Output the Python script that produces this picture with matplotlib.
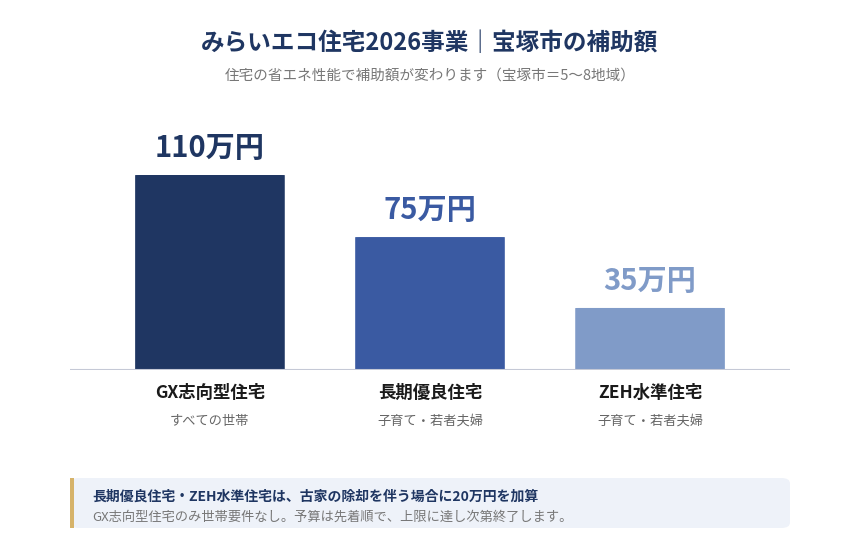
import matplotlib
matplotlib.use('Agg')
import matplotlib.pyplot as plt
from matplotlib.patches import FancyBboxPatch, Rectangle

plt.rcParams['font.family'] = ['Noto Sans CJK JP', 'DejaVu Sans']

categories = ['GX志向型住宅', '長期優良住宅', 'ZEH水準住宅']
sub_labels = ['すべての世帯', '子育て・若者夫婦', '子育て・若者夫婦']
values = [110, 75, 35]
value_labels = ['110万円', '75万円', '35万円']
colors = ['#1f3662', '#3a5aa2', '#809bc8']
label_colors = ['#1f3662', '#3a5aa2', '#809bc8']

W, H = 860, 560
fig = plt.figure(figsize=(8.6, 5.6), dpi=100)

def fy(py):
    return 1 - py / H

ax = fig.add_axes([70 / W, fy(370), 720 / W, (370 - 120) / H])
ax.set_xlim(-0.636, 2.636)
ax.set_ylim(0, 110 * 250 / 195)
ax.axis('off')

for i, v in enumerate(values):
    ax.add_patch(FancyBboxPatch((i - 0.34, 0), 0.68, v,
                                boxstyle='round,pad=0,rounding_size=0.02',
                                mutation_aspect=4, facecolor=colors[i], edgecolor='none'))
    ax.text(i, v + 7, value_labels[i], ha='center', va='bottom', fontsize=21,
            fontweight='bold', color=label_colors[i])
    ax.text(i, -13, categories[i], ha='center', va='center', fontsize=12.5,
            fontweight='bold', color='#1a1a1a', clip_on=False)
    ax.text(i, -29, sub_labels[i], ha='center', va='center', fontsize=9.5,
            color='#666666', clip_on=False)
ax.axhline(0, color='#c5c9d6', lw=1.5)

fig.text(0.5, fy(43), 'みらいエコ住宅2026事業｜宝塚市の補助額', ha='center', va='center',
         fontsize=17, fontweight='bold', color='#1f3662')
fig.text(0.5, fy(76), '住宅の省エネ性能で補助額が変わります（宝塚市＝5〜8地域）', ha='center',
         va='center', fontsize=10.5, color='#777777')

fig.patches.append(FancyBboxPatch((70 / W, fy(528)), 720 / W, 50 / H,
                                  boxstyle='round,pad=0,rounding_size=0.01',
                                  transform=fig.transFigure, facecolor='#eef2f9',
                                  edgecolor='none'))
fig.patches.append(Rectangle((70 / W, fy(528)), 4 / W, 50 / H, transform=fig.transFigure,
                             facecolor='#d6b36a', edgecolor='none'))
fig.text(92 / W, fy(497), '長期優良住宅・ZEH水準住宅は、古家の除却を伴う場合に20万円を加算',
         va='center', fontsize=10, fontweight='bold', color='#1f3662')
fig.text(92 / W, fy(517), 'GX志向型住宅のみ世帯要件なし。予算は先着順で、上限に達し次第終了します。',
         va='center', fontsize=9.5, color='#777777')

fig.savefig('out.png', dpi=100, facecolor='white')
